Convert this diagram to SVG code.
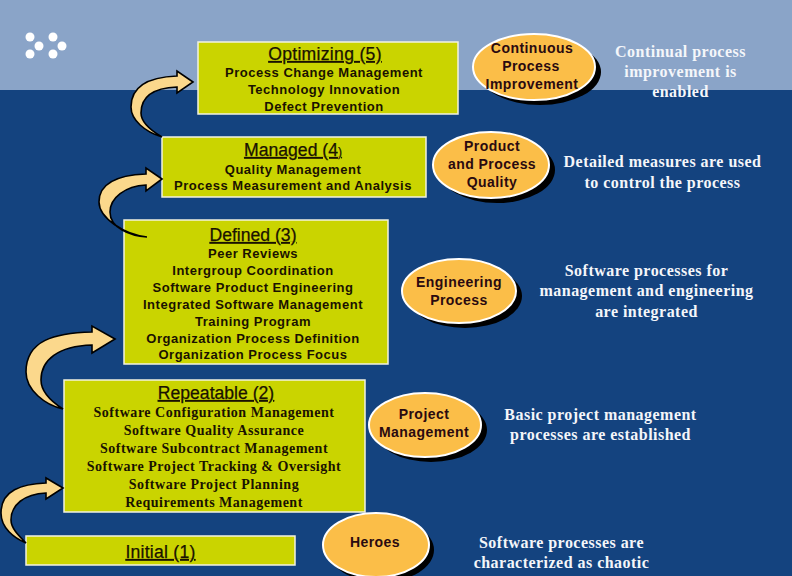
<svg xmlns="http://www.w3.org/2000/svg" width="792" height="576" viewBox="0 0 792 576">
<style>
.box{fill:#cad400;stroke:#f2f2e0;stroke-width:1.5}
.ell{fill:#fbbe48;stroke:#fff;stroke-width:2}
.sh{fill:#000}
.arr{fill:#fbd88c;stroke:#000;stroke-width:1.6;stroke-linejoin:miter}
text{text-anchor:middle}
.h{font:17.6px "Liberation Sans",Arial,sans-serif;fill:#1a1200;text-decoration:underline;stroke:#1a1200;stroke-width:.25}
.s{font:bold 13px "Liberation Sans",Arial,sans-serif;fill:#1a1200;letter-spacing:.52px}
.t{font:bold 14px "Liberation Serif","Times New Roman",serif;fill:#1a1200;letter-spacing:.52px}
.e{font:bold 14px "Liberation Sans",Arial,sans-serif;fill:#2a0a10;letter-spacing:.45px}
.w{font:bold 16px "Liberation Serif","Times New Roman",serif;fill:#f4f6fa;letter-spacing:.47px}
</style>
<rect id="bg-top" width="792" height="90" fill="#8aa4c8"/>
<rect id="bg-bottom" y="90" width="792" height="486" fill="#14437f"/>
<g id="dots" fill="#fff"><circle cx="30" cy="37" r="4.5"/><circle cx="53" cy="37" r="4.5"/><circle cx="39" cy="46" r="4.5"/><circle cx="62" cy="46" r="4.5"/><circle cx="30" cy="54" r="4.5"/><circle cx="53" cy="54" r="4.5"/></g>
<g id="optimizing"><rect class="box" x="198" y="42" width="260" height="72"/>
<text class="h" x="325" y="60" letter-spacing=".3">Optimizing (5)</text>
<text class="s" x="324" y="77">Process Change Management</text><text class="s" x="324" y="94">Technology Innovation</text><text class="s" x="324" y="111">Defect Prevention</text></g>
<g id="managed"><rect class="box" x="162" y="137" width="264" height="60"/>
<text class="h" x="293" y="156">Managed (4<tspan font-size="12">)</tspan></text>
<text class="s" x="293" y="174">Quality Management</text><text class="s" x="293" y="190">Process Measurement and Analysis</text></g>
<g id="defined"><rect class="box" x="124" y="220" width="264" height="144"/>
<text class="h" x="253" y="241">Defined (3)</text>
<text class="s" x="253" y="258">Peer Reviews</text><text class="s" x="253" y="275">Intergroup Coordination</text><text class="s" x="253" y="292">Software Product Engineering</text><text class="s" x="253" y="309">Integrated Software Management</text><text class="s" x="253" y="326">Training Program</text><text class="s" x="253" y="343">Organization Process Definition</text><text class="s" x="253" y="359">Organization Process Focus</text></g>
<g id="repeatable"><rect class="box" x="64" y="380" width="301" height="132"/>
<text class="h" x="216" y="399">Repeatable (2)</text>
<text class="t" x="214" y="417">Software Configuration Management</text><text class="t" x="214" y="435">Software Quality Assurance</text><text class="t" x="214" y="453">Software Subcontract Management</text><text class="t" x="214" y="471">Software Project Tracking &amp; Oversight</text><text class="t" x="214" y="489">Software Project Planning</text><text class="t" x="214" y="507">Requirements Management</text></g>
<g id="initial"><rect class="box" x="26" y="536" width="269" height="29"/><text class="h" x="160.5" y="558" letter-spacing=".25">Initial (1)</text></g>
<g id="connectors">
<path class="arr" d="M193 82L177 71V76C150 77 131 85 131 107C131 120 145 132 162 137C150 130 141 122 141 113C141 98 152 88 177 87V93Z"/>
<path class="arr" d="M162 179L146 168V174C120 175 99 182 99 202C99 218 125 235 147 237C130 236 110 228 110 212C110 198 125 186 146 185V191Z"/>
<path class="arr" d="M115 339L92 326V332C55 333 26 340 26 372C26 390 45 405 63 409C52 402 41 392 41 380C41 360 58 346 92 345V353Z"/>
<path class="arr" d="M63 488L46 478V483C22 484 1 490 1 513C1 528 14 538 26 543C18 535 11 528 11 520C11 505 24 494 46 493V499Z"/>
</g>
<g id="n-continuous"><ellipse class="sh" cx="540" cy="72" rx="61" ry="33"/><ellipse class="ell" cx="534" cy="67" rx="61" ry="33"/>
<text class="e" x="532" y="53">Continuous</text><text class="e" x="531" y="71">Process</text><text class="e" x="532" y="89">Improvement</text></g>
<g id="n-product"><ellipse class="sh" cx="497" cy="170" rx="58" ry="33"/><ellipse class="ell" cx="491" cy="165" rx="58" ry="33"/>
<text class="e" x="492" y="151">Product</text><text class="e" x="492" y="169">and Process</text><text class="e" x="492" y="187">Quality</text></g>
<g id="n-engineering"><ellipse class="sh" cx="465" cy="296" rx="57" ry="32"/><ellipse class="ell" cx="459" cy="291" rx="57" ry="32"/>
<text class="e" x="459" y="287">Engineering</text><text class="e" x="459" y="305">Process</text></g>
<g id="n-project"><ellipse class="sh" cx="431" cy="430" rx="56" ry="32"/><ellipse class="ell" cx="425" cy="425" rx="56" ry="32"/>
<text class="e" x="424" y="419">Project</text><text class="e" x="424" y="437">Management</text></g>
<g id="n-heroes"><ellipse class="sh" cx="381" cy="550" rx="53" ry="32"/><ellipse class="ell" cx="376" cy="545" rx="53" ry="32"/>
<text class="e" x="375" y="547">Heroes</text></g>
<g id="notes">
<text class="w" x="680.5" y="57">Continual process</text><text class="w" x="680.5" y="77">improvement is</text><text class="w" x="680.5" y="97">enabled</text>
<text class="w" x="662.5" y="167">Detailed measures are used</text><text class="w" x="662.5" y="188">to control the process</text>
<text class="w" x="646.5" y="276">Software processes for</text><text class="w" x="646.5" y="296">management and engineering</text><text class="w" x="646.5" y="317">are integrated</text>
<text class="w" x="600.5" y="420">Basic project management</text><text class="w" x="600.5" y="440">processes are established</text>
<text class="w" x="561.5" y="548">Software processes are</text><text class="w" x="561.5" y="568">characterized as chaotic</text>
</g>
</svg>
